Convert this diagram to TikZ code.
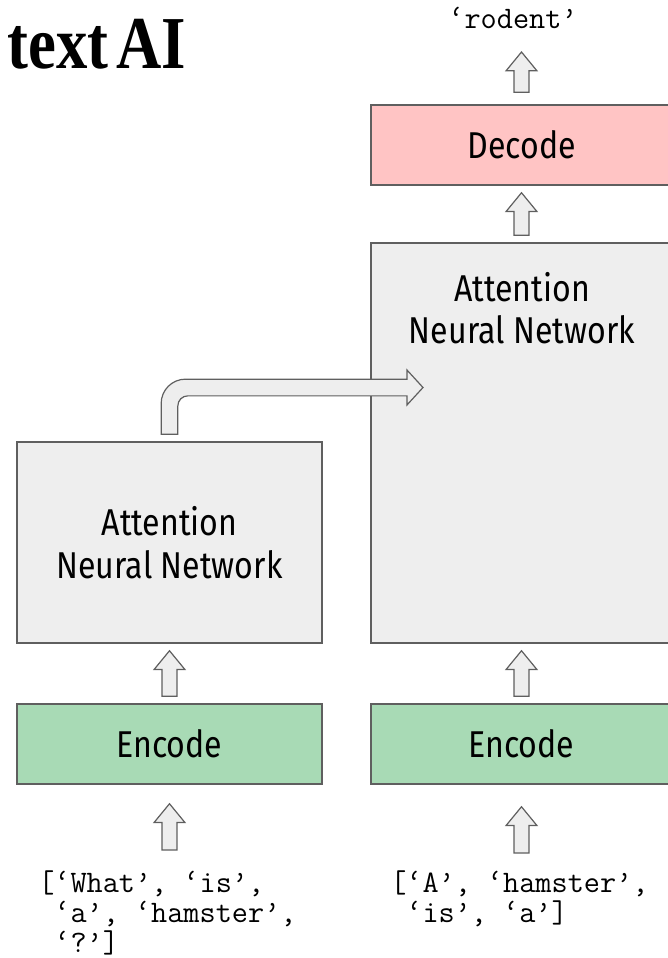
\documentclass[tikz,border=0pt]{standalone}
\usepackage{fontspec}
\usepackage{xcolor}
\usepackage{tikz}
\usetikzlibrary{calc}
\newfontfamily\boxfont[FakeStretch=0.86]{Fira Sans}
\newfontfamily\titlefont[FakeStretch=0.84]{Liberation Serif}
\definecolor{boxgray}{HTML}{EEEEEE}
\definecolor{edgegray}{HTML}{5F5F5F}
\definecolor{lightred}{HTML}{FFC4C4}
\definecolor{lightgreen}{HTML}{A8DAB5}
\tikzstyle{block} = [rectangle, draw=edgegray, line width=1.1pt, fill=boxgray, minimum width=228.75pt, minimum height=60pt, font=\boxfont\fontsize{28}{32}\selectfont, align=center, inner sep=0pt]
\tikzstyle{heading} = [font=\boxfont\fontsize{28}{32}\selectfont, align=center, inner sep=0pt]
\tikzstyle{words} = [font=\ttfamily\fontsize{23.5}{22.5}\selectfont, align=left, inner sep=0pt]
\tikzstyle{fat} = [draw=edgegray, line width=0.9pt, fill=boxgray, to path={let \p1=(\tikztostart), \p2=(\tikztotarget) in (\x1-5.6pt,\y1) -- (\x1-5.6pt,\y2-14pt) -- (\x1-11.5pt,\y2-14pt) -- (\x1,\y2) -- (\x1+11.5pt,\y2-14pt) -- (\x1+5.6pt,\y2-14pt) -- (\x1+5.6pt,\y1) -- cycle}]

\begin{document}
\begin{tikzpicture}[x=0.75pt, y=-0.75pt]
        \useasboundingbox (0,0) rectangle (668,958);

        % Place nodes
        \node [font=\titlefont\bfseries\fontsize{56}{56}\selectfont, anchor=base west, inner sep=0pt] (title) at (7,68) {text\hspace{-0.1em} AI};
        \node [words, anchor=base] (out) at (513,28) {‘rodent’};
        \node [block, fill=lightred, minimum width=225.75pt] (dec) at (521.5,145) {Decode};
        \node [block, minimum width=225.75pt, minimum height=300pt] (attR) at (521.5,443) {};
        \node [heading] (attRtext) at (522,308) {Attention\\Neural Network};
        \node [block, minimum height=150.75pt] (attL) at (169.5,542.5) {Attention\\Neural Network};
        \node [block, fill=lightgreen] (encL) at (169.5,744) {Encode};
        \node [block, fill=lightgreen, minimum width=225.75pt] (encR) at (521.5,744) {Encode};
        \node [words, anchor=north west] (inL) at (38,870) {[‘What’, ‘is’,\\\hphantom{[}‘a’, ‘hamster’,\\\hphantom{[}‘?’]};
        \node [words, anchor=north west] (inR) at (390,870) {[‘A’, ‘hamster’,\\\hphantom{[}‘is’, ‘a’]};
        \coordinate (srcL) at (encL.south |- inL.north);
        \coordinate (srcR) at (encR.south |- inR.north);
        \coordinate (ctx) at (423,387.5);

        % Draw edges
        \draw [fat] ([yshift=15pt]srcL) to ([yshift=-14.25pt]encL.south);
        \draw [fat] ([yshift=12.75pt]srcR) to ([yshift=-16.5pt]encR.south);
        \draw [fat] ([yshift=5.25pt]encL.north) to ([yshift=-5.25pt]attL.south);
        \draw [fat] ([yshift=5.25pt]encR.north) to ([yshift=-5.25pt]attR.south);
        \draw [fat] ([yshift=5.25pt]attR.north) to ([yshift=-5.25pt]dec.south);
        \draw [fat] ([yshift=9pt]dec.north) to ([yshift=-18pt]out.base);

        \draw [draw=edgegray, line width=0.9pt, fill=boxgray] let \p1=([yshift=5.25pt]attL.north), \p2=(ctx) in
            (\x1-6.26pt,\y1) -- (\x1-6.26pt,\y2-12pt) arc[start angle=180, end angle=90, radius=18.26pt]
            -- (\x2-12pt,\y2+6.26pt) -- (\x2-12pt,\y2+13.1pt) -- (\x2,\y2) -- (\x2-12pt,\y2-13.1pt)
            -- (\x2-12pt,\y2-6.26pt) -- (\x1+13.76pt,\y2-6.26pt) arc[start angle=90, end angle=180, radius=7.5pt]
            -- (\x1+6.26pt,\y1) -- cycle;
    \end{tikzpicture}
\end{document}
